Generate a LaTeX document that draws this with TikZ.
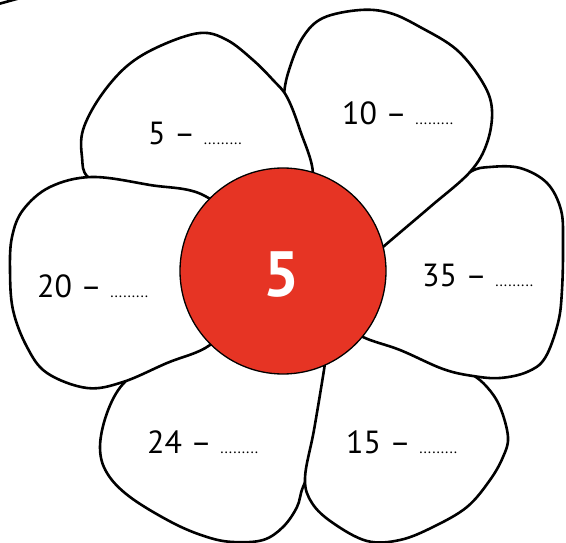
\documentclass[tikz,border=0pt]{standalone}
\usepackage{fontspec}
\setmainfont{PT Sans}
\usetikzlibrary{calc}
\definecolor{flowerred}{RGB}{230,52,36}
\def\blank{{\fontsize{15.5}{16}\selectfont .........}}

\begin{document}
\begin{tikzpicture}[x=1pt,y=-1pt,
    petal/.style={draw=black,fill=white,line width=2.6pt,line join=round},
    lbl/.style={anchor=base west,inner sep=0pt,font=\fontsize{32}{36}\selectfont}]
          \useasboundingbox (0,0) rectangle (566,543);
          \clip (0,0) rectangle (566,543);
          % bit of another shape in the corner
          \draw[petal,fill=none] (-12,7) .. controls (2,3) .. (24,-3);
          % petals, back to front
          \draw[petal] plot[smooth cycle,tension=0.6] coordinates {(220,335) (150,366) (123,384) (107,413) (100,447) (107,473) (130,497) (173,523) (207,537) (233,542) (263,540) (283,527) (297,507) (303,487) (318,455) (335,415) (320,330)};
          \draw[petal] plot[smooth cycle,tension=0.6] coordinates {(330,330) (324,370) (314,430) (305,478) (312,503) (333,523) (367,541) (400,540) (433,527) (467,507) (490,480) (503,457) (508,437) (500,407) (487,387) (470,373) (440,357) (360,315)};
          \draw[petal] plot[smooth cycle,tension=0.6] coordinates {(370,250) (440,195) (470,172) (490,167) (520,168) (547,183) (561,210) (563,243) (562,290) (558,323) (545,358) (527,372) (500,378) (473,376) (443,369) (400,350) (363,337) (340,320)};
          \draw[petal] plot[smooth cycle,tension=0.6] coordinates {(300,200) (285,135) (284,95) (290,67) (303,37) (323,18) (360,10) (390,13) (420,27) (457,50) (483,83) (492,110) (487,143) (470,172) (430,207) (383,247) (350,276)};
          \draw[petal] plot[smooth cycle,tension=0.6] coordinates {(260,230) (200,212) (120,192) (88,177) (82,157) (83,130) (100,97) (127,66) (160,46) (200,33) (227,40) (253,60) (273,80) (287,97) (300,130) (313,175) (300,215)};
          \draw[petal] plot[smooth cycle,tension=0.6] coordinates {(250,240) (205,196) (150,185) (92,177) (50,187) (23,210) (12,237) (10,270) (13,310) (27,347) (47,373) (87,388) (123,382) (167,363) (210,345) (240,310)};
          % middle
          \draw[fill=flowerred,line width=1.3pt] (283,271) circle (103);
          \node[white,inner sep=0pt,font=\bfseries\fontsize{64}{70}\selectfont] (centre) at (282,275) {5};
          \node[lbl] (t5) at (148,145) {5 -- \blank};
          \node[lbl] (t10) at (342,125) {10 -- \blank};
          \node[lbl] (t20) at (37,297) {20 -- \blank};
          \node[lbl] (t35) at (422,286) {35 -- \blank};
          \node[lbl] (t24) at (147,453) {24 -- \blank};
          \node[lbl] (t15) at (346,453) {15 -- \blank};
      \end{tikzpicture}
\end{document}
